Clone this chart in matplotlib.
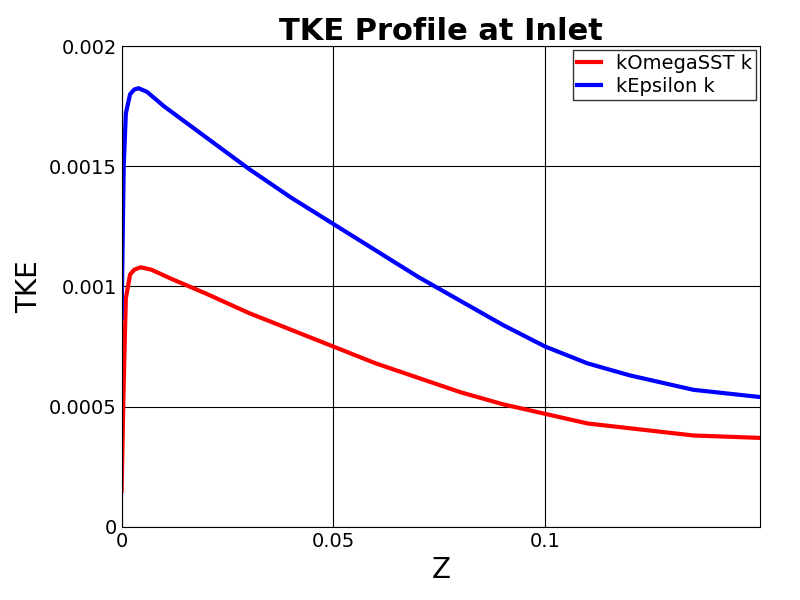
import matplotlib
matplotlib.use("Agg")
import matplotlib.pyplot as plt

# values
z_red = [0.0, 0.0005, 0.001, 0.002, 0.003, 0.0045, 0.007, 0.012, 0.02, 0.03, 0.04, 0.05, 0.06, 0.07, 0.08, 0.09, 0.1, 0.11, 0.12, 0.135, 0.1507]
k_red = [0.00015, 0.0006, 0.00095, 0.00105, 0.00107, 0.00108, 0.00107, 0.00103, 0.00097, 0.00089, 0.00082, 0.00075, 0.00068, 0.00062, 0.00056, 0.00051, 0.00047, 0.00043, 0.00041, 0.00038, 0.00037]
z_blue = [0.0, 0.0005, 0.001, 0.002, 0.003, 0.004, 0.006, 0.01, 0.02, 0.03, 0.04, 0.05, 0.06, 0.07, 0.08, 0.09, 0.1, 0.11, 0.12, 0.135, 0.1507]
k_blue = [0.00087, 0.0015, 0.00172, 0.0018, 0.00182, 0.001825, 0.00181, 0.00175, 0.00162, 0.00149, 0.00137, 0.00126, 0.00115, 0.00104, 0.00094, 0.00084, 0.00075, 0.00068, 0.00063, 0.00057, 0.00054]

fig, ax = plt.subplots(figsize=(8, 6), dpi=100)
fig.subplots_adjust(left=0.152, right=0.95, top=0.923, bottom=0.122)
ax.plot(z_red, k_red, color="red", lw=3, label="kOmegaSST k")
ax.plot(z_blue, k_blue, color="blue", lw=3, label="kEpsilon k")
ax.set_xlim(0, 0.1507)
ax.set_ylim(0, 0.002)
ax.set_xticks([0, 0.05, 0.1])
ax.set_xticklabels(["0", "0.05", "0.1"])
ax.set_yticks([0, 0.0005, 0.001, 0.0015, 0.002])
ax.set_yticklabels(["0", "0.0005", "0.001", "0.0015", "0.002"])
ax.tick_params(labelsize=14, direction="in", length=0)
ax.grid(True, color="black", lw=0.8)
ax.set_xlabel("Z", fontsize=20)
ax.set_ylabel("TKE", fontsize=20)
ax.set_title("TKE Profile at Inlet", fontsize=22, fontweight="bold", pad=4)
ax.legend(loc="upper right", fontsize=14, frameon=True, fancybox=False,
          edgecolor="black", handlelength=1.2, borderaxespad=0.2, borderpad=0.2, labelspacing=0.2)

fig.savefig("out.png")
